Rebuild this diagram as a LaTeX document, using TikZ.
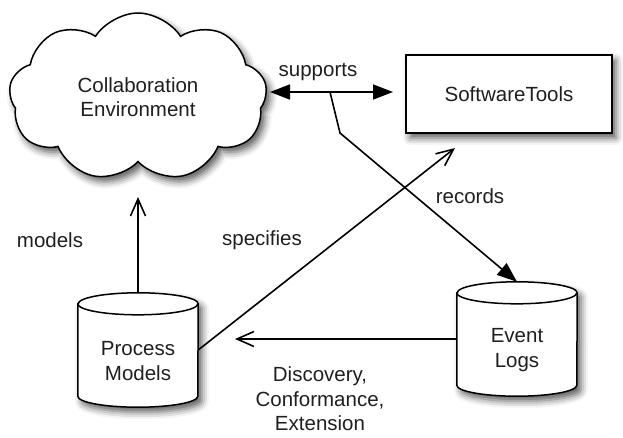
\documentclass[tikz,border=0pt]{standalone}
\usepackage{fontspec}
\setmainfont{Liberation Sans}
\usetikzlibrary{shapes.symbols, shadows.blur, arrows.meta, calc}
\pgfdeclarelayer{background}
\pgfsetlayers{background,main}
\newcommand\mycyl[1]{%
  \begin{pgfonlayer}{background}
  \path[cylline, fill=white, shad] ($(#1.north west)+(0,-11)$) -- ($(#1.south west)+(0,11)$)
     arc[start angle=180,end angle=360,x radius=60,y radius=11]
     -- ($(#1.north east)+(0,-11)$)
     arc[start angle=0,end angle=180,x radius=60,y radius=11] -- cycle;
  \draw[cylline] ($(#1.north west)+(0,-11)$) arc[start angle=180,end angle=360,x radius=60,y radius=11];
  \end{pgfonlayer}}
\begin{document}
\begin{tikzpicture}[x=1pt,y=1pt,
  font=\fontsize{20.5}{24.5}\selectfont,
  txt/.style={align=center, inner sep=0pt, text=black!88},
  shad/.style={blur shadow={shadow xshift=4pt, shadow yshift=-5pt, shadow blur radius=7pt, shadow opacity=65}},
  cylline/.style={draw, line width=1.5pt},
  cloudbox/.style={cloud, cloud puffs=9, cloud puff arc=115, aspect=1.5, draw, line width=1.5pt, fill=white, minimum width=258pt, minimum height=168pt, align=center, shad, text=black!88},
  toolbox/.style={rectangle, draw, line width=1.5pt, fill=white, minimum width=206pt, minimum height=78pt, shad, text=black!88},
  cylbox/.style={minimum width=120pt, minimum height=114pt, inner sep=0pt},
  conn/.style={line width=1.6pt, draw=black},
  openarrow/.style={conn, -{Straight Barb[length=17pt,width=15pt,line width=1.6pt]}},
  fillarrow/.style={conn, -{Triangle[length=20pt,width=15pt,fill=black]}},
  bifillarrow/.style={conn, {Triangle[length=20pt,width=15pt,fill=black]}-{Triangle[length=20pt,width=15pt,fill=black]}},
]
\useasboundingbox (0,0) rectangle (623,-437);

\node[cloudbox] (cloud) at (138,-97) {Collaboration\\Environment};
\node[toolbox] (st) at (509,-94) {SoftwareTools};

\node[cylbox] (pm) at (138,-350) {};
\node[txt] (pmtext) at ([yshift=-11pt]pm.center) {Process\\Models};
\mycyl{pm}
\node[cylbox] (el) at (517,-339) {};
\node[txt] (eltext) at ([yshift=-11pt]el.center) {Event\\Logs};
\mycyl{el}

\coordinate (sl) at (270,-92);
\coordinate (sr) at (393,-92);
\coordinate (j) at (330,-92);
\coordinate (bend) at (340,-133);
\coordinate (spec) at (455,-148);
\coordinate (mtop) at (138,-197);
\coordinate (dend) at (235,-339);

\draw[bifillarrow] (sl) -- (sr);
\draw[fillarrow] (j) -- (bend) -- (el.north);
\draw[openarrow] (pm.east) -- (spec);
\draw[openarrow] (pm.north) -- (mtop);
\draw[openarrow] (el.west) -- (dend);

\node[txt] (lsup) at (318,-72) {supports};
\node[txt] (lrec) at (470,-196) {records};
\node[txt] (lspec) at (262,-240) {specifies};
\node[txt] (lmod) at (50,-240) {models};
\node[txt] (ldisc) at (320,-399) {Discovery,\\Conformance,\\Extension};
\end{tikzpicture}
\end{document}
